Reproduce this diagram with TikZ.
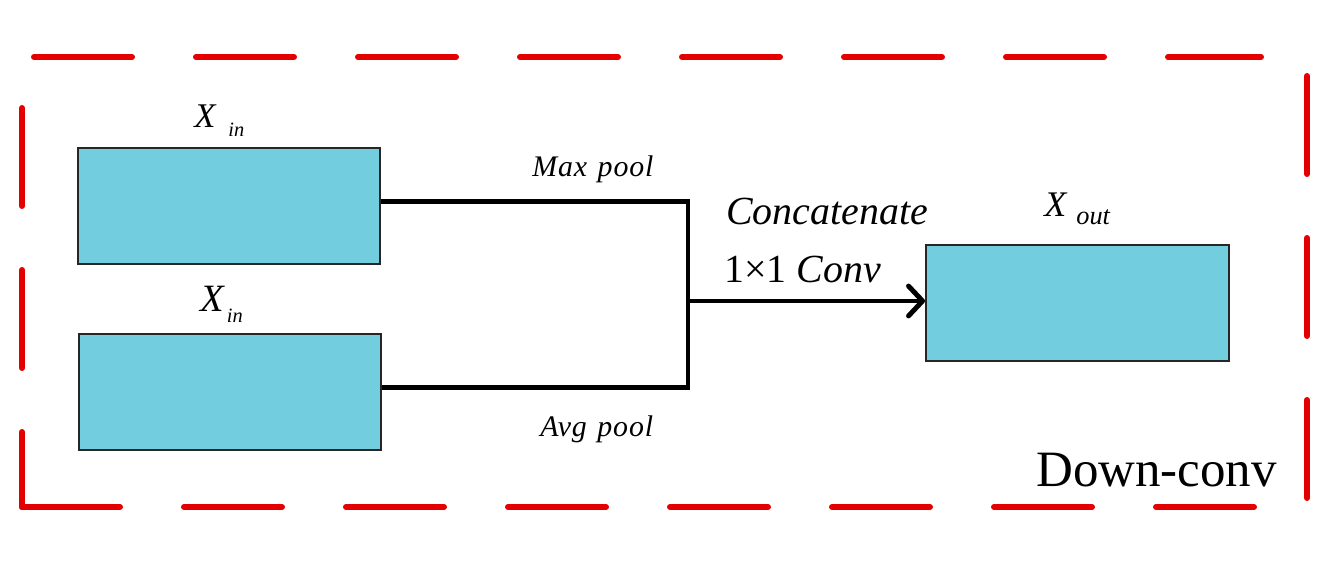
\documentclass[tikz,border=0pt]{standalone}
\usepackage{fontspec}
\setmainfont{Liberation Serif}
\newfontfamily\poolfont[LetterSpace=3]{Liberation Serif}
\usetikzlibrary{arrows.meta}
\definecolor{boxblue}{RGB}{114,205,222}
\definecolor{framered}{RGB}{228,0,0}

\begin{document}
\begin{tikzpicture} [featbox/.style={draw=black!85,line width=1.1pt,fill=boxblue,minimum width=6.04cm,minimum height=2.32cm,inner sep=0pt},
  frame/.style={draw=framered,line width=3.4pt,line cap=round,dash pattern=on 1.96cm off 1.28cm},
  wire/.style={line width=2.8pt,line join=miter},
  lab/.style={inner sep=0pt,anchor=base west}]
\useasboundingbox (0,0) rectangle (26.76,11.24);
\draw[frame] (0.68,10.10) -- (25.22,10.10);
\draw[frame] (0.44,9.08) -- (0.44,1.10);
\draw[frame] (0.44,1.10) -- (25.16,1.10);
\draw[frame] (26.14,9.72) -- (26.14,1.26);
\node[featbox] (xin1) at (4.58,7.12) {};
\node[featbox] (xin2) at (4.60,3.40) {};
\node[featbox,minimum width=6.06cm] (xout) at (21.55,5.18) {};
\node[lab] (xin1lab) at (3.88,8.68) {\fontsize{19.7}{22}\selectfont\itshape X\hspace{0.26cm}\raisebox{-5pt}{\fontsize{11.6}{13}\selectfont in}};
\node[lab] (xin2lab) at (4.00,5.00) {\fontsize{22}{24}\selectfont\itshape X\hspace{0.06cm}\raisebox{-5.7pt}{\fontsize{11.6}{13}\selectfont in}};
\node[lab] (xoutlab) at (20.88,6.90) {\fontsize{20.5}{23}\selectfont\itshape X\hspace{0.2cm}\raisebox{-4.5pt}{\fontsize{15}{17}\selectfont out}};
\coordinate (junc) at (13.76,5.22);
\draw[wire] ([yshift=0.09cm]xin1.east) -| (junc) |- ([yshift=0.09cm]xin2.east);
\draw[wire,-{Straight Barb[length=8pt,width=17pt,round]}] (junc) -- (xout.west |- junc);
\node[lab] (maxlab) at (10.64,7.70) {\fontsize{17}{19}\selectfont\poolfont\itshape Max\hspace{0.35em}pool};
\node[lab] (avglab) at (10.80,2.50) {\fontsize{17}{19}\selectfont\poolfont\itshape Avg\hspace{0.35em}pool};
\node[lab] (catlab) at (14.52,6.74) {\fontsize{22.7}{26}\selectfont\itshape Concatenate};
\node[lab] (convlab) at (14.48,5.58) {\fontsize{22.7}{26}\selectfont 1×1 \textit{Conv}};
\node[lab] (downlab) at (20.72,1.50) {\fontsize{29}{32}\selectfont Down-conv};
\end{tikzpicture}
\end{document}
